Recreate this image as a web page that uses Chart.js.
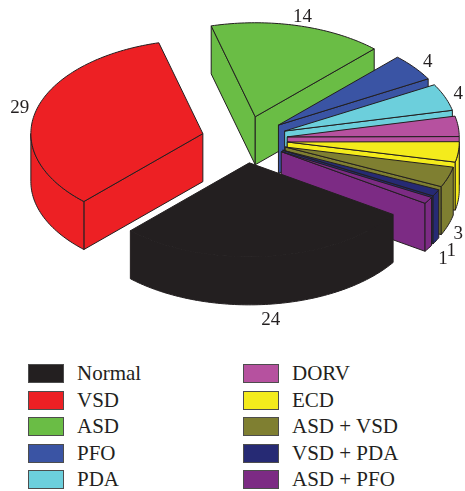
<!DOCTYPE html>
<html>
<head>
<meta charset="utf-8">
<script src="https://cdn.jsdelivr.net/npm/chart.js@4.4.1/dist/chart.umd.min.js"></script>
<style>
  body { margin: 0; background: #fff; font-family: "Liberation Serif", "DejaVu Serif", serif; color: #231f20; }
  #wrap { position: relative; width: 465px; height: 491px; }
  #chart { position: absolute; left: 0; top: 0; }
  .item { position: absolute; height: 19px; white-space: nowrap; }
  .box { position: absolute; left: 0; top: 0; width: 36px; height: 19px; box-sizing: border-box; border: 1px solid #4d4d4d; }
  .txt { position: absolute; left: 49px; top: -1px; font-size: 21px; line-height: 21px; }
</style>
</head>
<body>
<div id="wrap">
  <canvas id="chart" width="465" height="345"></canvas>
  <div id="legend"></div>
</div>
<script>
// categories and counts
const categories = ['Normal', 'VSD', 'ASD', 'PFO', 'PDA', 'DORV', 'ECD', 'ASD + VSD', 'VSD + PDA', 'ASD + PFO'];
const counts = [24, 29, 14, 4, 4, 3, 3, 3, 1, 1];
const showValue = [true, true, true, true, true, false, false, true, true, true];
const colors = ['#231f20', '#ed2024', '#6abd45', '#3a54a4', '#6ccfdc', '#b6519f', '#f4eb1c', '#7f7f31', '#262a74', '#7c2b84'];

// draws the pie as an exploded 3d pie from the arcs chart.js laid out
const pie3d = {
  id: 'pie3d',
  beforeDatasetsDraw(chart, args, o) {
    const ctx = chart.ctx;
    const meta = chart.getDatasetMeta(0);
    const arcs = meta.data.map((el, i) => {
      const p = el.getProps(['x', 'y', 'startAngle', 'endAngle', 'outerRadius'], true);
      return { i, ...p, mid: (p.startAngle + p.endAngle) / 2 };
    });
    chart.$arcs3d = arcs;
    const sorted = arcs.slice().sort((a, b) => Math.sin(a.mid) - Math.sin(b.mid));

    ctx.save();
    ctx.lineWidth = 1;
    ctx.lineJoin = 'round';
    ctx.strokeStyle = o.border;
    sorted.forEach(a => {
      const s = a.startAngle, e = a.endAngle, m = a.mid;
      const ox = a.x + o.rx * o.explode * Math.cos(m);
      const oy = a.y + o.ry * o.explode * Math.sin(m);
      const P = (t, dz) => [ox + o.rx * Math.cos(t), oy + o.ry * Math.sin(t) + (dz || 0)];
      const D = o.depth;
      ctx.fillStyle = colors[a.i];

      const poly = pts => {
        ctx.beginPath();
        ctx.moveTo(pts[0][0], pts[0][1]);
        for (let k = 1; k < pts.length; k++) ctx.lineTo(pts[k][0], pts[k][1]);
        ctx.closePath();
        ctx.fill();
        ctx.stroke();
      };
      const arcPts = (t1, t2, dz) => {
        const n = Math.max(2, Math.ceil(Math.abs(t2 - t1) / 0.02));
        const out = [];
        for (let k = 0; k <= n; k++) out.push(P(t1 + (t2 - t1) * k / n, dz));
        return out;
      };

      // radial faces
      if (Math.cos(s) < 0) poly([[ox, oy], P(s), P(s, D), [ox, oy + D]]);
      if (Math.cos(e) > 0) poly([[ox, oy], P(e), P(e, D), [ox, oy + D]]);

      // curved front side
      const k = Math.floor(s / (2 * Math.PI));
      const s0 = s - 2 * Math.PI * k, e0 = e - 2 * Math.PI * k;
      [[0, Math.PI], [2 * Math.PI, 3 * Math.PI]].forEach(([lo, hi]) => {
        const t1 = Math.max(s0, lo), t2 = Math.min(e0, hi);
        if (t2 > t1) poly(arcPts(t1, t2, 0).concat(arcPts(t2, t1, D)));
      });

      // top
      poly([[ox, oy]].concat(arcPts(s, e, 0)));
    });
    ctx.restore();
    return false;
  },
  afterDraw(chart, args, o) {
    const arcs = chart.$arcs3d;
    if (!arcs) return;
    const ctx = chart.ctx;
    ctx.save();
    ctx.fillStyle = '#231f20';
    ctx.font = '19px "Liberation Serif", "DejaVu Serif", serif';
    ctx.textAlign = 'center';
    ctx.textBaseline = 'middle';
    arcs.forEach(a => {
      if (!showValue[a.i]) return;
      const m = a.mid;
      const ox = a.x + o.rx * o.explode * Math.cos(m);
      const oy = a.y + o.ry * o.explode * Math.sin(m);
      let x = ox + o.rx * o.labelFactor * Math.cos(m);
      let y = oy + o.ry * o.labelFactor * Math.sin(m);
      if (Math.sin(m) > 0.2) y += o.depth + 6;
      const txt = String(counts[a.i]);
      const w = ctx.measureText(txt).width;
      x = Math.min(x, chart.width - w / 2 - 2);
      ctx.fillText(txt, x, y);
    });
    ctx.restore();
  }
};

new Chart(document.getElementById('chart'), {
  type: 'pie',
  data: {
    labels: categories,
    datasets: [{
      data: counts,
      backgroundColor: colors,
      borderColor: '#231f20',
      borderWidth: 1
    }]
  },
  options: {
    responsive: false,
    animation: false,
    rotation: 123.3,
    layout: { padding: { left: 24, right: 0, top: 0, bottom: 66 } },
    plugins: {
      legend: { display: false },
      tooltip: { enabled: false },
      pie3d: { rx: 172, ry: 94, depth: 48, explode: 0.25, labelFactor: 1.1, border: '#231f20' }
    }
  },
  plugins: [pie3d]
});

// legend, two columns of five
const legend = document.getElementById('legend');
categories.forEach((lab, i) => {
  const col = Math.floor(i / 5), row = i % 5;
  const item = document.createElement('div');
  item.className = 'item';
  item.style.left = (28 + col * 215) + 'px';
  item.style.top = (364 + row * 26.6) + 'px';
  item.innerHTML = '<span class="box" style="background:' + colors[i] + '"></span><span class="txt">' + lab + '</span>';
  legend.appendChild(item);
});
</script>
</body>
</html>
